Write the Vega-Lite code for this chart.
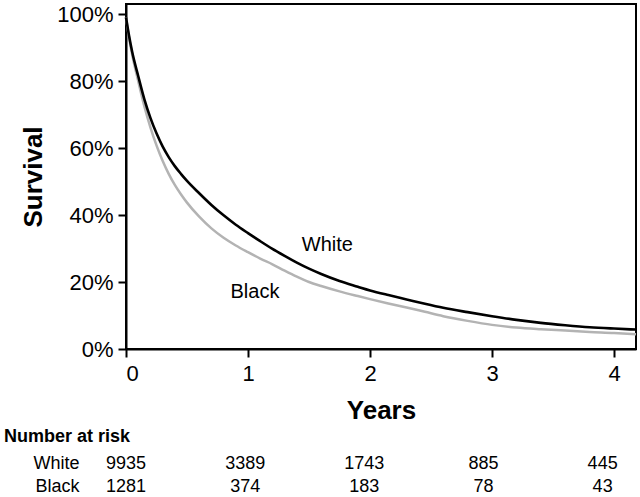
{
  "$schema": "https://vega.github.io/schema/vega-lite/v6.json",
  "background": "white",
  "padding": {"left": 3, "top": 2, "right": 3, "bottom": 2},
  "config": {
    "font": "Liberation Sans",
    "view": {"stroke": "black", "strokeWidth": 2},
    "axis": {
      "grid": false,
      "domainColor": "black",
      "domainWidth": 2,
      "tickColor": "black",
      "tickWidth": 2,
      "tickSize": 8,
      "labelColor": "black",
      "titleColor": "black",
      "labelFont": "Liberation Sans",
      "titleFont": "Liberation Sans"
    },
    "title": {"font": "Liberation Sans", "color": "black"}
  },
  "datasets": {
    "curves": [
      {"group": "White", "t": 0, "s": 99},
      {"group": "White", "t": 0.025, "s": 93.5},
      {"group": "White", "t": 0.05, "s": 88.8},
      {"group": "White", "t": 0.1, "s": 81.5},
      {"group": "White", "t": 0.15, "s": 74.6},
      {"group": "White", "t": 0.2, "s": 69.0},
      {"group": "White", "t": 0.25, "s": 64.4},
      {"group": "White", "t": 0.3, "s": 60.5},
      {"group": "White", "t": 0.35, "s": 57.3},
      {"group": "White", "t": 0.4, "s": 54.6},
      {"group": "White", "t": 0.45, "s": 52.3},
      {"group": "White", "t": 0.5, "s": 50.2},
      {"group": "White", "t": 0.6, "s": 46.5},
      {"group": "White", "t": 0.7, "s": 43.0},
      {"group": "White", "t": 0.8, "s": 39.9},
      {"group": "White", "t": 0.9, "s": 37.1},
      {"group": "White", "t": 1.0, "s": 34.6},
      {"group": "White", "t": 1.1, "s": 32.2},
      {"group": "White", "t": 1.2, "s": 29.9},
      {"group": "White", "t": 1.3, "s": 27.8},
      {"group": "White", "t": 1.4, "s": 25.8},
      {"group": "White", "t": 1.5, "s": 24.0},
      {"group": "White", "t": 1.6, "s": 22.4},
      {"group": "White", "t": 1.75, "s": 20.3},
      {"group": "White", "t": 1.9, "s": 18.6},
      {"group": "White", "t": 2.0, "s": 17.5},
      {"group": "White", "t": 2.15, "s": 16.1},
      {"group": "White", "t": 2.3, "s": 14.8},
      {"group": "White", "t": 2.45, "s": 13.5},
      {"group": "White", "t": 2.6, "s": 12.3},
      {"group": "White", "t": 2.8, "s": 11.0},
      {"group": "White", "t": 3.0, "s": 9.8},
      {"group": "White", "t": 3.2, "s": 8.7},
      {"group": "White", "t": 3.4, "s": 7.8},
      {"group": "White", "t": 3.6, "s": 7.1},
      {"group": "White", "t": 3.8, "s": 6.5},
      {"group": "White", "t": 4.0, "s": 6.1},
      {"group": "White", "t": 4.18, "s": 5.8},
      {"group": "Black", "t": 0, "s": 99},
      {"group": "Black", "t": 0.025, "s": 93},
      {"group": "Black", "t": 0.05, "s": 88},
      {"group": "Black", "t": 0.1, "s": 80},
      {"group": "Black", "t": 0.15, "s": 72.5},
      {"group": "Black", "t": 0.2, "s": 66.2},
      {"group": "Black", "t": 0.25, "s": 60.8},
      {"group": "Black", "t": 0.3, "s": 56.2},
      {"group": "Black", "t": 0.35, "s": 52.3},
      {"group": "Black", "t": 0.4, "s": 49.0},
      {"group": "Black", "t": 0.45, "s": 46.2},
      {"group": "Black", "t": 0.5, "s": 43.7},
      {"group": "Black", "t": 0.6, "s": 39.5},
      {"group": "Black", "t": 0.7, "s": 36.0},
      {"group": "Black", "t": 0.8, "s": 33.2},
      {"group": "Black", "t": 0.9, "s": 30.9},
      {"group": "Black", "t": 1.0, "s": 28.9},
      {"group": "Black", "t": 1.1, "s": 27.0},
      {"group": "Black", "t": 1.2, "s": 25.3},
      {"group": "Black", "t": 1.3, "s": 23.4},
      {"group": "Black", "t": 1.4, "s": 21.6},
      {"group": "Black", "t": 1.5, "s": 20.0},
      {"group": "Black", "t": 1.6, "s": 18.8},
      {"group": "Black", "t": 1.75, "s": 17.2},
      {"group": "Black", "t": 1.9, "s": 15.8},
      {"group": "Black", "t": 2.0, "s": 14.9},
      {"group": "Black", "t": 2.15, "s": 13.6},
      {"group": "Black", "t": 2.3, "s": 12.4},
      {"group": "Black", "t": 2.45, "s": 11.1},
      {"group": "Black", "t": 2.6, "s": 9.8},
      {"group": "Black", "t": 2.8, "s": 8.4},
      {"group": "Black", "t": 3.0, "s": 7.2},
      {"group": "Black", "t": 3.2, "s": 6.4},
      {"group": "Black", "t": 3.4, "s": 5.9},
      {"group": "Black", "t": 3.6, "s": 5.5},
      {"group": "Black", "t": 3.8, "s": 5.1},
      {"group": "Black", "t": 4.0, "s": 4.8},
      {"group": "Black", "t": 4.18, "s": 4.4}
    ],
    "labels": [
      {"group": "White", "t": 1.65, "s": 31},
      {"group": "Black", "t": 1.057, "s": 16.9}
    ],
    "risk": [
      {"group": "White", "t": 0, "n": 9935},
      {"group": "White", "t": 1, "n": 3389},
      {"group": "White", "t": 2, "n": 1743},
      {"group": "White", "t": 3, "n": 885},
      {"group": "White", "t": 4, "n": 445},
      {"group": "Black", "t": 0, "n": 1281},
      {"group": "Black", "t": 1, "n": 374},
      {"group": "Black", "t": 2, "n": 183},
      {"group": "Black", "t": 3, "n": 78},
      {"group": "Black", "t": 4, "n": 43}
    ]
  },
  "spacing": 4,
  "resolve": {"scale": {"x": "independent", "y": "independent"}},
  "vconcat": [
    {
      "width": 510,
      "height": 345,
      "encoding": {
        "x": {
          "field": "t",
          "type": "quantitative",
          "scale": {"domain": [0, 4.18], "nice": false, "zero": false},
          "axis": {
            "values": [0, 1, 2, 3, 4],
            "format": "d",
            "labelFontSize": 22,
            "labelPadding": 6,
            "title": "Years",
            "titleFontSize": 26,
            "titleFontWeight": "bold",
            "titlePadding": 13
          }
        },
        "y": {
          "field": "s",
          "type": "quantitative",
          "scale": {"domain": [0, 103], "nice": false},
          "axis": {
            "values": [0, 20, 40, 60, 80, 100],
            "labelExpr": "datum.value + '%'",
            "labelFontSize": 22,
            "labelPadding": 5,
            "title": "Survival",
            "titleFontSize": 26,
            "titleFontWeight": "bold",
            "titlePadding": 10
          }
        }
      },
      "layer": [
        {
          "data": {"name": "curves"},
          "transform": [{"filter": "datum.group == 'Black'"}],
          "mark": {"type": "line", "color": "#b3b3b3", "strokeWidth": 2.5, "interpolate": "monotone"}
        },
        {
          "data": {"name": "curves"},
          "transform": [{"filter": "datum.group == 'White'"}],
          "mark": {"type": "line", "color": "#000000", "strokeWidth": 2.6, "interpolate": "monotone"}
        },
        {
          "data": {"name": "labels"},
          "mark": {"type": "text", "fontSize": 20, "color": "black", "align": "center", "baseline": "middle"},
          "encoding": {"text": {"field": "group", "type": "nominal"}}
        }
      ]
    },
    {
      "width": 510,
      "height": 46,
      "view": {"stroke": null},
      "title": {
        "text": "Number at risk",
        "anchor": "start",
        "frame": "bounds",
        "fontSize": 18,
        "fontWeight": "bold",
        "dx": -29,
        "offset": 6
      },
      "data": {"name": "risk"},
      "mark": {"type": "text", "fontSize": 18, "color": "black", "align": "center", "baseline": "middle"},
      "encoding": {
        "x": {
          "field": "t",
          "type": "quantitative",
          "scale": {"domain": [0, 4.28], "nice": false, "zero": false},
          "axis": null
        },
        "y": {
          "field": "group",
          "type": "nominal",
          "sort": ["White", "Black"],
          "axis": {
            "domain": false,
            "ticks": false,
            "labelPadding": 47,
            "labelFontSize": 18,
            "title": null
          }
        },
        "text": {"field": "n", "type": "quantitative"}
      }
    }
  ]
}
